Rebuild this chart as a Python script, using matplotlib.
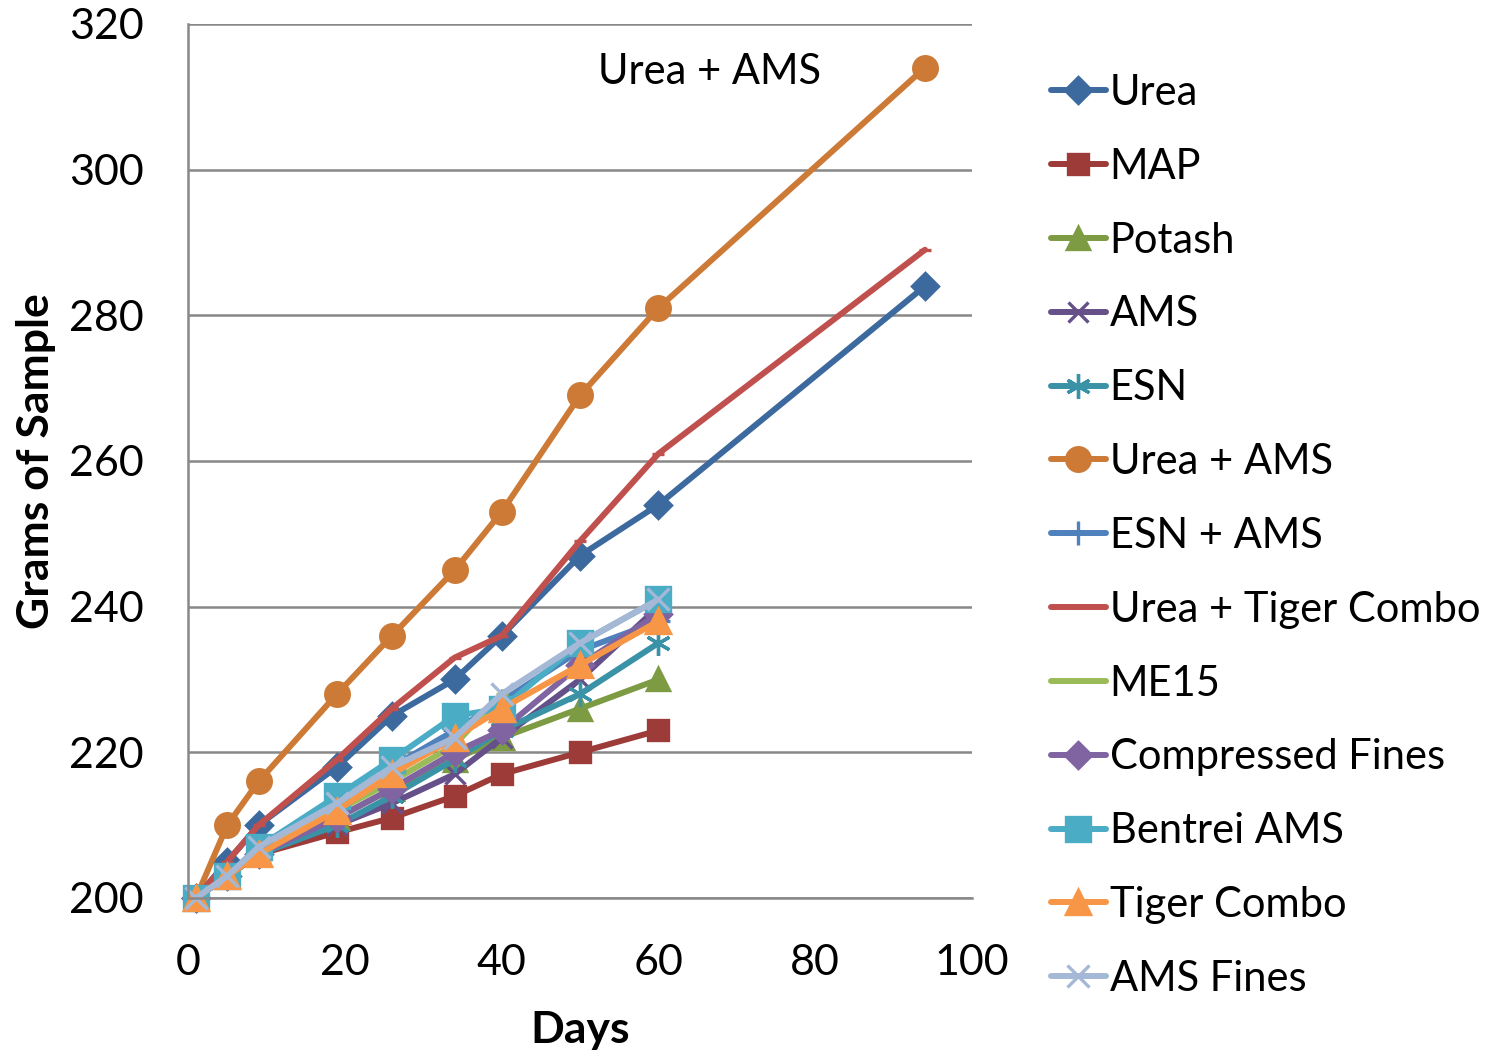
import matplotlib
matplotlib.use("Agg")
import matplotlib.pyplot as plt

plt.rcParams['font.family'] = ['Lato', 'DejaVu Sans']

# Sampling days
days = [1, 5, 9, 19, 26, 34, 40, 50, 60, 94]

# Grams of sample per product (series stop where the measurements stop)
urea = [200, 205, 210, 218, 225, 230, 236, 247, 254, 284]
map_ = [200, 203, 206, 209, 211, 214, 217, 220, 223]
potash = [200, 203, 206, 211, 215, 219, 222, 226, 230]
ams = [200, 203, 206, 210, 213, 217, 222, 230, 240]
esn = [200, 203, 206, 210, 214, 219, 223, 228, 235]
urea_ams = [200, 210, 216, 228, 236, 245, 253, 269, 281, 314]
esn_ams = [200, 203, 207, 213, 218, 223, 227, 234, 238]
urea_tiger = [200, 205, 210, 219, 226, 233, 236, 249, 261, 289]
me15 = [200, 203, 206, 212, 216, 221, 228]
compressed_fines = [200, 203, 206, 211, 215, 220, 223, 232, 239]
bentrei_ams = [200, 203, 207, 214, 219, 225, 226, 235, 241]
tiger_combo = [200, 203, 206, 212, 217, 222, 226, 232, 238]
ams_fines = [200, 203, 207, 213, 218, 222, 228, 235, 241]

series = [
    ("Urea", urea, '#3D6A9E', 'D', 13),
    ("MAP", map_, '#9D3B38', 's', 15),
    ("Potash", potash, '#7D9B43', '^', 16),
    ("AMS", ams, '#65508A', 'x', 15),
    ("ESN", esn, '#3A92A6', (6, 2, 0), 18),
    ("Urea + AMS", urea_ams, '#CC7A35', 'o', 17),
    ("ESN + AMS", esn_ams, '#4F81BD', '+', 17),
    ("Urea + Tiger Combo", urea_tiger, '#C0504D', '_', 9),
    ("ME15", me15, '#9BBB59', '_', 9),
    ("Compressed Fines", compressed_fines, '#8064A2', 'D', 13),
    ("Bentrei AMS", bentrei_ams, '#4BACC6', 's', 17),
    ("Tiger Combo", tiger_combo, '#F79646', '^', 17),
    ("AMS Fines", ams_fines, '#A5B8D6', 'x', 16),
]

fig = plt.figure(figsize=(15.07, 10.51), dpi=100)
ax = fig.add_axes([0.1248, 0.1456, 0.5202, 0.8316])

for name, vals, color, marker, ms in series:
    ax.plot(days[:len(vals)], vals, color=color, lw=4.3, marker=marker,
            markersize=ms, markeredgewidth=2.4, label=name, clip_on=False,
            solid_capstyle='round')

ax.set_xlim(0, 100)
ax.set_ylim(200, 320)
ax.set_xticks(range(0, 101, 20))
ax.set_yticks(range(200, 321, 20))
ax.grid(axis='y', color='#888888', lw=1.8)
ax.set_axisbelow(True)
for s in ['top', 'right']:
    ax.spines[s].set_visible(False)
for s in ['left', 'bottom']:
    ax.spines[s].set_color('#888888')
    ax.spines[s].set_linewidth(1.8)
ax.tick_params(axis='x', length=0, labelsize=31, pad=33)
ax.tick_params(axis='y', length=0, labelsize=31, pad=32)

ax.set_xlabel('Days', fontsize=32, fontweight='bold', labelpad=20)
ax.set_ylabel('Grams of Sample', fontsize=32, fontweight='bold', labelpad=9)

ax.text(52.3, 313.4, 'Urea + AMS', fontsize=30, va='center', ha='left')

ax.legend(loc='upper left', bbox_to_anchor=(1.08, 0.962), frameon=False,
          fontsize=30, handlelength=1.3, handletextpad=0.1, labelspacing=0.86,
          borderaxespad=0)

fig.savefig('out.png', dpi=100)
